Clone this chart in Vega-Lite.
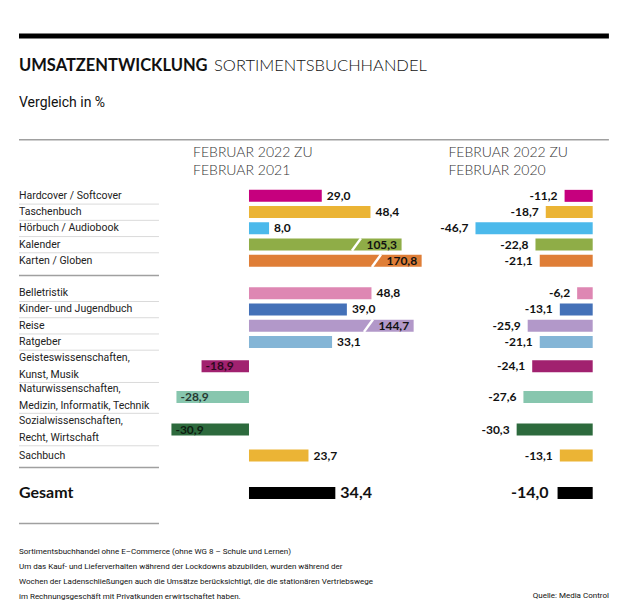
{
  "$schema": "https://vega.github.io/schema/vega-lite/v6.json",
  "width": 630,
  "height": 615,
  "autosize": {"type": "fit", "contains": "padding"},
  "padding": 0,
  "background": "white",
  "config": {
    "view": {"stroke": null},
    "locale": {"number": {"decimal": ",", "thousands": ".", "grouping": [3], "currency": ["", " €"], "minus": "-"}},
    "text": {"font": "Roboto"}
  },
  "datasets": {
    "kat": [
      {"kategorie": "Hardcover / Softcover", "zeile": 0, "feb2021": 29.0, "feb2020": -11.2},
      {"kategorie": "Taschenbuch", "zeile": 1, "feb2021": 48.4, "feb2020": -18.7},
      {"kategorie": "Hörbuch / Audiobook", "zeile": 2, "feb2021": 8.0, "feb2020": -46.7},
      {"kategorie": "Kalender", "zeile": 3, "feb2021": 105.3, "feb2020": -22.8},
      {"kategorie": "Karten / Globen", "zeile": 4, "feb2021": 170.8, "feb2020": -21.1},
      {"kategorie": "Belletristik", "zeile": 6, "feb2021": 48.8, "feb2020": -6.2},
      {"kategorie": "Kinder- und Jugendbuch", "zeile": 7, "feb2021": 39.0, "feb2020": -13.1},
      {"kategorie": "Reise", "zeile": 8, "feb2021": 144.7, "feb2020": -25.9},
      {"kategorie": "Ratgeber", "zeile": 9, "feb2021": 33.1, "feb2020": -21.1},
      {"kategorie": "Geisteswissenschaften,\nKunst, Musik", "zeile": 10.5, "feb2021": -18.9, "feb2020": -24.1},
      {"kategorie": "Naturwissenschaften,\nMedizin, Informatik, Technik", "zeile": 12.4, "feb2021": -28.9, "feb2020": -27.6},
      {"kategorie": "Sozialwissenschaften,\nRecht, Wirtschaft", "zeile": 14.4, "feb2021": -30.9, "feb2020": -30.3},
      {"kategorie": "Sachbuch", "zeile": 16, "feb2021": 23.7, "feb2020": -13.1}
    ],
    "gesamt": [
      {"kategorie": "Gesamt", "zeile": 18.3, "feb2021": 34.4, "feb2020": -14.0}
    ],
    "eins": [{}]
  },
  "resolve": {"scale": {"x": "independent"}},
  "layer": [
    {
      "layer": [
        {
          "data": {"name": "eins"},
          "mark": {"type": "rule", "color": "#000000", "strokeWidth": 5},
          "encoding": {
            "x": {"datum": -91.63, "type": "quantitative", "scale": {"domain": [-99.2, 151.8], "nice": false, "zero": false}, "axis": null},
            "x2": {"datum": 143.4},
            "y": {"datum": -9.85, "type": "quantitative", "scale": {"domain": [-11.758, 25.515], "reverse": true, "nice": false, "zero": false}, "axis": null}
          }
        },
        {
          "data": {"name": "eins"},
          "mark": {"type": "text", "text": "UMSATZENTWICKLUNG", "font": "Lato", "fontWeight": "bold", "fontSize": 16.5, "align": "left", "baseline": "middle", "color": "#111111"},
          "encoding": {
            "x": {"datum": -91.63, "type": "quantitative", "scale": {"domain": [-99.2, 151.8], "nice": false, "zero": false}, "axis": null},
            "y": {"datum": -8.0, "type": "quantitative", "scale": {"domain": [-11.758, 25.515], "reverse": true, "nice": false, "zero": false}, "axis": null}
          }
        },
        {
          "data": {"name": "eins"},
          "mark": {"type": "text", "text": "SORTIMENTSBUCHHANDEL", "font": "Lato", "fontWeight": 300, "fontSize": 16.5, "align": "left", "baseline": "middle", "color": "#111111"},
          "encoding": {
            "x": {"datum": -13.94, "type": "quantitative", "scale": {"domain": [-99.2, 151.8], "nice": false, "zero": false}, "axis": null},
            "y": {"datum": -8.0, "type": "quantitative", "scale": {"domain": [-11.758, 25.515], "reverse": true, "nice": false, "zero": false}, "axis": null}
          }
        },
        {
          "data": {"name": "eins"},
          "mark": {"type": "text", "text": "Vergleich in %", "fontSize": 14, "align": "left", "baseline": "middle", "color": "#111111"},
          "encoding": {
            "x": {"datum": -91.63, "type": "quantitative", "scale": {"domain": [-99.2, 151.8], "nice": false, "zero": false}, "axis": null},
            "y": {"datum": -5.7, "type": "quantitative", "scale": {"domain": [-11.758, 25.515], "reverse": true, "nice": false, "zero": false}, "axis": null}
          }
        },
        {
          "data": {"name": "eins"},
          "mark": {"type": "rule", "color": "#a0a0a0", "strokeWidth": 1.5},
          "encoding": {
            "x": {"datum": -91.63, "type": "quantitative", "scale": {"domain": [-99.2, 151.8], "nice": false, "zero": false}, "axis": null},
            "x2": {"datum": 143.4},
            "y": {"datum": -3.45, "type": "quantitative", "scale": {"domain": [-11.758, 25.515], "reverse": true, "nice": false, "zero": false}, "axis": null}
          }
        },
        {
          "data": {"name": "eins"},
          "mark": {"type": "text", "text": ["FEBRUAR 2022 ZU", "FEBRUAR 2021"], "font": "Lato", "fontWeight": 300, "fontSize": 14, "lineHeight": 18.5, "align": "left", "baseline": "alphabetic", "color": "#333333"},
          "encoding": {
            "x": {"datum": -22.3, "type": "quantitative", "scale": {"domain": [-99.2, 151.8], "nice": false, "zero": false}, "axis": null},
            "y": {"datum": -2.4, "type": "quantitative", "scale": {"domain": [-11.758, 25.515], "reverse": true, "nice": false, "zero": false}, "axis": null}
          }
        },
        {
          "data": {"name": "kat"},
          "transform": [{"filter": "indexof(datum.kategorie, '\\n') < 0"}],
          "mark": {"type": "text", "fontSize": 10.5, "align": "left", "baseline": "middle", "color": "#222222"},
          "encoding": {
            "x": {"datum": -91.63, "type": "quantitative", "scale": {"domain": [-99.2, 151.8], "nice": false, "zero": false}, "axis": null},
            "y": {"field": "zeile", "type": "quantitative", "scale": {"domain": [-11.758, 25.515], "reverse": true, "nice": false, "zero": false}, "axis": null},
            "text": {"field": "kategorie"}
          }
        },
        {
          "data": {"name": "kat"},
          "transform": [{"filter": "indexof(datum.kategorie, '\\n') >= 0"}],
          "mark": {"type": "text", "fontSize": 10.5, "lineBreak": "\n", "lineHeight": 16.8, "dy": -8.4, "align": "left", "baseline": "middle", "color": "#222222"},
          "encoding": {
            "x": {"datum": -91.63, "type": "quantitative", "scale": {"domain": [-99.2, 151.8], "nice": false, "zero": false}, "axis": null},
            "y": {"field": "zeile", "type": "quantitative", "scale": {"domain": [-11.758, 25.515], "reverse": true, "nice": false, "zero": false}, "axis": null},
            "text": {"field": "kategorie"}
          }
        },
        {
          "data": {"name": "kat"},
          "transform": [{"filter": "indexof(datum.kategorie, '\\n') < 0 && datum.zeile != 4 && datum.zeile != 16"}],
          "mark": {"type": "rule", "color": "#dadada", "strokeWidth": 1, "yOffset": 8.25},
          "encoding": {
            "x": {"datum": -91.63, "type": "quantitative", "scale": {"domain": [-99.2, 151.8], "nice": false, "zero": false}, "axis": null},
            "x2": {"datum": -35.86},
            "y": {"field": "zeile", "type": "quantitative", "scale": {"domain": [-11.758, 25.515], "reverse": true, "nice": false, "zero": false}, "axis": null}
          }
        },
        {
          "data": {"name": "kat"},
          "transform": [{"filter": "indexof(datum.kategorie, '\\n') >= 0"}],
          "mark": {"type": "rule", "color": "#dadada", "strokeWidth": 1, "yOffset": 16.2},
          "encoding": {
            "x": {"datum": -91.63, "type": "quantitative", "scale": {"domain": [-99.2, 151.8], "nice": false, "zero": false}, "axis": null},
            "x2": {"datum": -35.86},
            "y": {"field": "zeile", "type": "quantitative", "scale": {"domain": [-11.758, 25.515], "reverse": true, "nice": false, "zero": false}, "axis": null}
          }
        },
        {
          "data": {"name": "eins"},
          "mark": {"type": "rule", "color": "#a0a0a0", "strokeWidth": 1.5},
          "encoding": {
            "x": {"datum": -91.63, "type": "quantitative", "scale": {"domain": [-99.2, 151.8], "nice": false, "zero": false}, "axis": null},
            "x2": {"datum": -35.86},
            "y": {"datum": 4.91, "type": "quantitative", "scale": {"domain": [-11.758, 25.515], "reverse": true, "nice": false, "zero": false}, "axis": null}
          }
        },
        {
          "data": {"name": "eins"},
          "mark": {"type": "rule", "color": "#a0a0a0", "strokeWidth": 1.5},
          "encoding": {
            "x": {"datum": -91.63, "type": "quantitative", "scale": {"domain": [-99.2, 151.8], "nice": false, "zero": false}, "axis": null},
            "x2": {"datum": -35.86},
            "y": {"datum": 16.73, "type": "quantitative", "scale": {"domain": [-11.758, 25.515], "reverse": true, "nice": false, "zero": false}, "axis": null}
          }
        },
        {
          "data": {"name": "eins"},
          "mark": {"type": "rule", "color": "#a0a0a0", "strokeWidth": 1.5},
          "encoding": {
            "x": {"datum": -91.63, "type": "quantitative", "scale": {"domain": [-99.2, 151.8], "nice": false, "zero": false}, "axis": null},
            "x2": {"datum": -35.86},
            "y": {"datum": 20.18, "type": "quantitative", "scale": {"domain": [-11.758, 25.515], "reverse": true, "nice": false, "zero": false}, "axis": null}
          }
        },
        {
          "data": {"name": "gesamt"},
          "mark": {"type": "text", "font": "Lato", "fontWeight": "bold", "fontSize": 16, "align": "left", "baseline": "middle", "color": "#111111"},
          "encoding": {
            "x": {"datum": -91.63, "type": "quantitative", "scale": {"domain": [-99.2, 151.8], "nice": false, "zero": false}, "axis": null},
            "y": {"field": "zeile", "type": "quantitative", "scale": {"domain": [-11.758, 25.515], "reverse": true, "nice": false, "zero": false}, "axis": null},
            "text": {"field": "kategorie"}
          }
        },
        {
          "data": {"name": "kat"},
          "transform": [
            {"calculate": "datum.feb2021 > 100 ? 60.15 + (datum.feb2021 - 100) * 0.122 : datum.feb2021", "as": "anz"},
            {"calculate": "datum.anz - 19.8", "as": "s1"},
            {"calculate": "datum.anz - 16.2", "as": "s2"},
            {"calculate": "datum.zeile + 0.38", "as": "o"},
            {"calculate": "datum.zeile - 0.38", "as": "u"}
          ],
          "layer": [
            {
              "mark": {"type": "bar", "size": 12},
              "encoding": {
                "x": {"field": "anz", "type": "quantitative", "scale": {"domain": [-99.2, 151.8], "nice": false, "zero": false}, "axis": null},
                "x2": {"datum": 0},
                "y": {"field": "zeile", "type": "quantitative", "scale": {"domain": [-11.758, 25.515], "reverse": true, "nice": false, "zero": false}, "axis": null},
                "color": {"field": "kategorie", "type": "nominal", "legend": null, "scale": {
                  "domain": ["Hardcover / Softcover", "Taschenbuch", "Hörbuch / Audiobook", "Kalender", "Karten / Globen", "Belletristik", "Kinder- und Jugendbuch", "Reise", "Ratgeber", "Geisteswissenschaften,\nKunst, Musik", "Naturwissenschaften,\nMedizin, Informatik, Technik", "Sozialwissenschaften,\nRecht, Wirtschaft", "Sachbuch"],
                  "range": ["#c6007e", "#ebb435", "#4bb9eb", "#8fad47", "#df7e37", "#de87b3", "#4471b8", "#b298c9", "#84b5d6", "#a1216f", "#87c6ae", "#2d6a3d", "#ebb435"]}}
              }
            },
            {
              "transform": [{"filter": "datum.feb2021 > 100"}],
              "mark": {"type": "rule", "color": "white", "strokeWidth": 2.5},
              "encoding": {
                "x": {"field": "s1", "type": "quantitative", "scale": {"domain": [-99.2, 151.8], "nice": false, "zero": false}, "axis": null},
                "x2": {"field": "s2"},
                "y": {"field": "o", "type": "quantitative", "scale": {"domain": [-11.758, 25.515], "reverse": true, "nice": false, "zero": false}, "axis": null},
                "y2": {"field": "u"}
              }
            },
            {
              "transform": [{"filter": "datum.feb2021 >= 0 && datum.feb2021 <= 100"}],
              "mark": {"type": "text", "font": "Lato", "fontWeight": "bold", "fontSize": 12, "align": "left", "baseline": "middle", "dx": 5, "color": "#111111"},
              "encoding": {
                "x": {"field": "anz", "type": "quantitative", "scale": {"domain": [-99.2, 151.8], "nice": false, "zero": false}, "axis": null},
                "y": {"field": "zeile", "type": "quantitative", "scale": {"domain": [-11.758, 25.515], "reverse": true, "nice": false, "zero": false}, "axis": null},
                "text": {"field": "feb2021", "type": "quantitative", "format": ".1f"}
              }
            },
            {
              "transform": [{"filter": "datum.feb2021 > 100"}],
              "mark": {"type": "text", "font": "Lato", "fontWeight": "bold", "fontSize": 12, "align": "right", "baseline": "middle", "dx": -4.5, "color": "#111111"},
              "encoding": {
                "x": {"field": "anz", "type": "quantitative", "scale": {"domain": [-99.2, 151.8], "nice": false, "zero": false}, "axis": null},
                "y": {"field": "zeile", "type": "quantitative", "scale": {"domain": [-11.758, 25.515], "reverse": true, "nice": false, "zero": false}, "axis": null},
                "text": {"field": "feb2021", "type": "quantitative", "format": ".1f"}
              }
            },
            {
              "transform": [{"filter": "datum.feb2021 < 0"}],
              "mark": {"type": "text", "font": "Lato", "fontWeight": "bold", "fontSize": 12, "align": "left", "baseline": "middle", "dx": 4, "color": "#000000", "opacity": 0.72},
              "encoding": {
                "x": {"field": "anz", "type": "quantitative", "scale": {"domain": [-99.2, 151.8], "nice": false, "zero": false}, "axis": null},
                "y": {"field": "zeile", "type": "quantitative", "scale": {"domain": [-11.758, 25.515], "reverse": true, "nice": false, "zero": false}, "axis": null},
                "text": {"field": "feb2021", "type": "quantitative", "format": ".1f"}
              }
            }
          ]
        },
        {
          "data": {"name": "gesamt"},
          "layer": [
            {
              "mark": {"type": "bar", "size": 12, "color": "#000000"},
              "encoding": {
                "x": {"field": "feb2021", "type": "quantitative", "scale": {"domain": [-99.2, 151.8], "nice": false, "zero": false}, "axis": null},
                "x2": {"datum": 0},
                "y": {"field": "zeile", "type": "quantitative", "scale": {"domain": [-11.758, 25.515], "reverse": true, "nice": false, "zero": false}, "axis": null}
              }
            },
            {
              "mark": {"type": "text", "font": "Lato", "fontWeight": "bold", "fontSize": 16, "align": "left", "baseline": "middle", "dx": 5, "color": "#111111"},
              "encoding": {
                "x": {"field": "feb2021", "type": "quantitative", "scale": {"domain": [-99.2, 151.8], "nice": false, "zero": false}, "axis": null},
                "y": {"field": "zeile", "type": "quantitative", "scale": {"domain": [-11.758, 25.515], "reverse": true, "nice": false, "zero": false}, "axis": null},
                "text": {"field": "feb2021", "type": "quantitative", "format": ".1f"}
              }
            }
          ]
        },
        {
          "data": {"name": "eins"},
          "mark": {"type": "text", "text": ["Sortimentsbuchhandel ohne E–Commerce (ohne WG 8 – Schule und Lernen)", "Um das Kauf- und Lieferverhalten während der Lockdowns abzubilden, wurden während der", "Wochen der Ladenschließungen auch die Umsätze berücksichtigt, die die stationären Vertriebswege", "im Rechnungsgeschäft mit Privatkunden erwirtschaftet haben."], "fontSize": 8, "lineHeight": 15, "align": "left", "baseline": "alphabetic", "color": "#111111"},
          "encoding": {
            "x": {"datum": -91.63, "type": "quantitative", "scale": {"domain": [-99.2, 151.8], "nice": false, "zero": false}, "axis": null},
            "y": {"datum": 22.08, "type": "quantitative", "scale": {"domain": [-11.758, 25.515], "reverse": true, "nice": false, "zero": false}, "axis": null}
          }
        },
        {
          "data": {"name": "eins"},
          "mark": {"type": "text", "text": "Quelle: Media Control", "fontSize": 8, "align": "right", "baseline": "alphabetic", "color": "#111111"},
          "encoding": {
            "x": {"datum": 143.4, "type": "quantitative", "scale": {"domain": [-99.2, 151.8], "nice": false, "zero": false}, "axis": null},
            "y": {"datum": 24.8, "type": "quantitative", "scale": {"domain": [-11.758, 25.515], "reverse": true, "nice": false, "zero": false}, "axis": null}
          }
        }
      ]
    },
    {
      "layer": [
        {
          "data": {"name": "eins"},
          "mark": {"type": "text", "text": ["FEBRUAR 2022 ZU", "FEBRUAR 2020"], "font": "Lato", "fontWeight": 300, "fontSize": 14, "lineHeight": 18.5, "align": "left", "baseline": "alphabetic", "color": "#333333"},
          "encoding": {
            "x": {"datum": -57.5, "type": "quantitative", "scale": {"domain": [-236.14, 14.86], "nice": false, "zero": false}, "axis": null},
            "y": {"datum": -2.4, "type": "quantitative", "scale": {"domain": [-11.758, 25.515], "reverse": true, "nice": false, "zero": false}, "axis": null}
          }
        },
        {
          "data": {"name": "kat"},
          "layer": [
            {
              "mark": {"type": "bar", "size": 12},
              "encoding": {
                "x": {"field": "feb2020", "type": "quantitative", "scale": {"domain": [-236.14, 14.86], "nice": false, "zero": false}, "axis": null},
                "x2": {"datum": 0},
                "y": {"field": "zeile", "type": "quantitative", "scale": {"domain": [-11.758, 25.515], "reverse": true, "nice": false, "zero": false}, "axis": null},
                "color": {"field": "kategorie", "type": "nominal", "legend": null, "scale": {
                  "domain": ["Hardcover / Softcover", "Taschenbuch", "Hörbuch / Audiobook", "Kalender", "Karten / Globen", "Belletristik", "Kinder- und Jugendbuch", "Reise", "Ratgeber", "Geisteswissenschaften,\nKunst, Musik", "Naturwissenschaften,\nMedizin, Informatik, Technik", "Sozialwissenschaften,\nRecht, Wirtschaft", "Sachbuch"],
                  "range": ["#c6007e", "#ebb435", "#4bb9eb", "#8fad47", "#df7e37", "#de87b3", "#4471b8", "#b298c9", "#84b5d6", "#a1216f", "#87c6ae", "#2d6a3d", "#ebb435"]}}
              }
            },
            {
              "mark": {"type": "text", "font": "Lato", "fontWeight": "bold", "fontSize": 12, "align": "right", "baseline": "middle", "dx": -7, "color": "#111111"},
              "encoding": {
                "x": {"field": "feb2020", "type": "quantitative", "scale": {"domain": [-236.14, 14.86], "nice": false, "zero": false}, "axis": null},
                "y": {"field": "zeile", "type": "quantitative", "scale": {"domain": [-11.758, 25.515], "reverse": true, "nice": false, "zero": false}, "axis": null},
                "text": {"field": "feb2020", "type": "quantitative", "format": ".1f"}
              }
            }
          ]
        },
        {
          "data": {"name": "gesamt"},
          "layer": [
            {
              "mark": {"type": "bar", "size": 12, "color": "#000000"},
              "encoding": {
                "x": {"field": "feb2020", "type": "quantitative", "scale": {"domain": [-236.14, 14.86], "nice": false, "zero": false}, "axis": null},
                "x2": {"datum": 0},
                "y": {"field": "zeile", "type": "quantitative", "scale": {"domain": [-11.758, 25.515], "reverse": true, "nice": false, "zero": false}, "axis": null}
              }
            },
            {
              "mark": {"type": "text", "font": "Lato", "fontWeight": "bold", "fontSize": 16, "align": "right", "baseline": "middle", "dx": -9, "color": "#111111"},
              "encoding": {
                "x": {"field": "feb2020", "type": "quantitative", "scale": {"domain": [-236.14, 14.86], "nice": false, "zero": false}, "axis": null},
                "y": {"field": "zeile", "type": "quantitative", "scale": {"domain": [-11.758, 25.515], "reverse": true, "nice": false, "zero": false}, "axis": null},
                "text": {"field": "feb2020", "type": "quantitative", "format": ".1f"}
              }
            }
          ]
        }
      ]
    }
  ]
}
